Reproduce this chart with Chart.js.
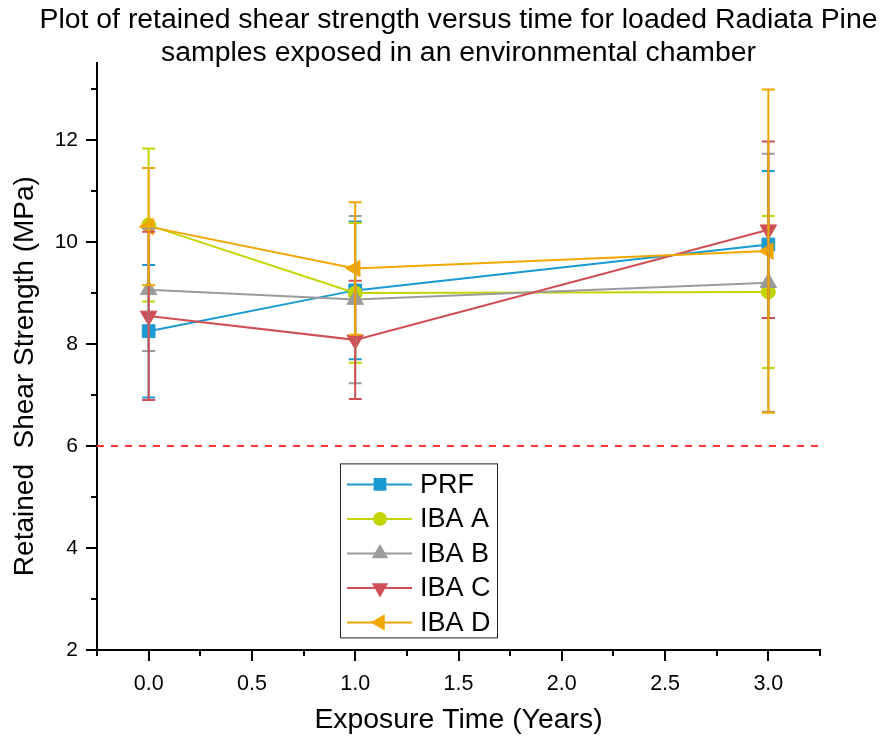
<!DOCTYPE html>
<html><head><meta charset="utf-8">
<script src="https://cdn.jsdelivr.net/npm/chart.js@4/dist/chart.umd.min.js"></script>
<style>html,body{margin:0;padding:0;background:#fff}#wrap{width:880px;height:738px}</style>
</head><body><div id="wrap"><canvas id="c" width="880" height="738"></canvas></div>
<script>
// ---- data ----
const years = [0, 1, 3];
const seriesNames = ['PRF', 'IBA A', 'IBA B', 'IBA C', 'IBA D'];
const prf = [8.25, 9.05, 9.95];
const prfErr = [1.30, 1.35, 1.44];
const ibaA = [10.33, 9.00, 9.02];
const ibaAErr = [1.50, 1.37, 1.49];
const ibaB = [9.06, 8.87, 9.20];
const ibaBErr = [1.20, 1.64, 2.53];
const ibaC = [8.55, 8.08, 10.24];
const ibaCErr = [1.65, 1.16, 1.73];
const ibaD = [10.30, 9.48, 9.82];
const ibaDErr = [1.15, 1.30, 3.17];
const thresholdValue = 6;
const xRange = [-0.25, 3.25];
const yRange = [2, 13.5];

const seriesValues = [prf, ibaA, ibaB, ibaC, ibaD];
const seriesErrors = [prfErr, ibaAErr, ibaBErr, ibaCErr, ibaDErr];
const colors = ['#1a9ad2', '#c3d500', '#9b9b9b', '#cf4f55', '#f2a600'];
const styles = [
  {pointStyle: 'rect', rotation: 0, radius: 9},
  {pointStyle: 'circle', rotation: 0, radius: 7},
  {pointStyle: 'triangle', rotation: 0, radius: 9.5},
  {pointStyle: 'triangle', rotation: 180, radius: 9.5},
  {pointStyle: 'triangle', rotation: -90, radius: 9.5}
];

Chart.defaults.font.family = "'Liberation Sans', Arial, sans-serif";
Chart.defaults.color = '#000';

const datasets = seriesValues.map((vals, s) => ({
  label: seriesNames[s],
  data: years.map((x, i) => ({x: x, y: vals[i]})),
  borderColor: colors[s],
  backgroundColor: colors[s],
  borderWidth: 2,
  pointStyle: styles[s].pointStyle,
  pointRotation: styles[s].rotation,
  pointRadius: styles[s].radius,
  pointHoverRadius: styles[s].radius,
  pointBorderWidth: 1,
  order: 5 - s,
  errors: seriesErrors[s]
}));
datasets.push({
  label: 'threshold',
  data: [{x: xRange[0], y: thresholdValue}, {x: xRange[1], y: thresholdValue}],
  borderColor: '#ff3333',
  borderWidth: 2,
  borderDash: [7, 7],
  pointRadius: 0,
  order: 10
});

function drawMarker(ctx, style, x, y) {
  const r = style.radius;
  ctx.beginPath();
  if (style.pointStyle === 'rect') {
    const h = r * Math.SQRT1_2;
    ctx.rect(x - h, y - h, 2 * h, 2 * h);
  } else if (style.pointStyle === 'circle') {
    ctx.arc(x, y, r, 0, Math.PI * 2);
  } else {
    let rad = style.rotation * Math.PI / 180;
    for (let k = 0; k < 3; k++) {
      const px = x + Math.sin(rad) * r, py = y - Math.cos(rad) * r;
      if (k === 0) ctx.moveTo(px, py); else ctx.lineTo(px, py);
      rad += 2 * Math.PI / 3;
    }
    ctx.closePath();
  }
  ctx.fill();
}

const errorBarPlugin = {
  id: 'errorBars',
  afterDatasetsDraw(chart) {
    const ctx = chart.ctx, xs = chart.scales.x, ys = chart.scales.y;
    ctx.save();
    chart.data.datasets.forEach((ds, s) => {
      if (!ds.errors) return;
      ctx.strokeStyle = ds.borderColor;
      ctx.lineWidth = 2;
      ds.data.forEach((p, i) => {
        const e = ds.errors[i];
        const px = xs.getPixelForValue(p.x);
        const yt = ys.getPixelForValue(p.y + e);
        const yb = ys.getPixelForValue(p.y - e);
        ctx.beginPath();
        ctx.moveTo(px, yt); ctx.lineTo(px, yb);
        ctx.moveTo(px - 6.5, yt); ctx.lineTo(px + 6.5, yt);
        ctx.moveTo(px - 6.5, yb); ctx.lineTo(px + 6.5, yb);
        ctx.stroke();
      });
    });
    ctx.restore();
  }
};

const ticksPlugin = {
  id: 'axisTicks',
  afterDraw(chart) {
    const ctx = chart.ctx, xs = chart.scales.x, ys = chart.scales.y, ca = chart.chartArea;
    ctx.save();
    ctx.strokeStyle = '#000';
    ctx.lineWidth = 2;
    ctx.beginPath();
    xs.ticks.forEach(t => {
      const px = Math.round(xs.getPixelForValue(t.value));
      const len = t.label === '' ? 6 : 11;
      ctx.moveTo(px, ca.bottom); ctx.lineTo(px, ca.bottom + len);
    });
    ys.ticks.forEach(t => {
      const py = Math.round(ys.getPixelForValue(t.value));
      const len = t.label === '' ? 6 : 11;
      ctx.moveTo(ca.left, py); ctx.lineTo(ca.left - len, py);
    });
    ctx.stroke();
    ctx.restore();
  }
};

const legendPlugin = {
  id: 'boxLegend',
  afterDraw(chart) {
    const ctx = chart.ctx, ca = chart.chartArea;
    const left = ca.left + 243, top = ca.top + 400, w = 157, h = 174;
    ctx.save();
    ctx.fillStyle = '#fff';
    ctx.fillRect(left, top, w, h);
    ctx.strokeStyle = '#222';
    ctx.lineWidth = 1;
    ctx.strokeRect(left + 0.5, top + 0.5, w, h);
    ctx.font = "27px 'Liberation Sans', Arial, sans-serif";
    ctx.textBaseline = 'middle';
    ctx.textAlign = 'left';
    seriesNames.forEach((name, s) => {
      const cy = top + 21 + s * 34.5;
      ctx.strokeStyle = colors[s];
      ctx.fillStyle = colors[s];
      ctx.lineWidth = 2;
      ctx.beginPath();
      ctx.moveTo(left + 7, cy); ctx.lineTo(left + 72, cy);
      ctx.stroke();
      drawMarker(ctx, styles[s], left + 40, cy);
      ctx.fillStyle = '#000';
      ctx.fillText(name, left + 80, cy + 1);
    });
    ctx.restore();
  }
};

new Chart(document.getElementById('c'), {
  type: 'line',
  data: {datasets: datasets},
  options: {
    responsive: false,
    animation: false,
    devicePixelRatio: 1,
    layout: {padding: {left: 37, right: 0, top: 0, bottom: 0}},
    plugins: {
      legend: {display: false},
      tooltip: {enabled: false},
      title: {
        display: true,
        text: ['Plot of retained shear strength versus time for loaded Radiata Pine',
               'samples exposed in an environmental chamber'],
        font: {size: 28.4, weight: 'normal', lineHeight: 1.16},
        color: '#000',
        padding: {top: 4, bottom: -6.5}
      }
    },
    scales: {
      x: {
        type: 'linear',
        min: xRange[0], max: xRange[1],
        grid: {display: false, drawTicks: false},
        border: {display: true, color: '#000', width: 2},
        ticks: {
          stepSize: 0.25,
          autoSkip: false,
          maxRotation: 0,
          includeBounds: false,
          padding: 21,
          font: {size: 21.5},
          callback: v => (Math.abs(v * 2 - Math.round(v * 2)) < 1e-6) ? v.toFixed(1) : ''
        },
        title: {display: true, text: 'Exposure Time (Years)', font: {size: 28.4}, padding: {top: 0, bottom: 1}},
        afterFit(scale) { scale.height = 88; }
      },
      y: {
        type: 'linear',
        min: yRange[0], max: yRange[1],
        grid: {display: false, drawTicks: false},
        border: {display: true, color: '#000', width: 2},
        ticks: {
          stepSize: 1,
          autoSkip: false,
          includeBounds: false,
          padding: 19,
          font: {size: 21},
          callback: v => (Math.round(v) % 2 === 0) ? String(v) : ''
        },
        title: {display: true, text: 'Retained  Shear Strength (MPa)     ', font: {size: 28}, padding: {top: -28.8, bottom: 0}},
        afterFit(scale) { scale.width = 60; }
      },
      yRight: {
        type: 'linear',
        position: 'right',
        display: true,
        grid: {display: false},
        border: {display: false},
        ticks: {display: false},
        afterFit(scale) { scale.width = 60; }
      }
    }
  },
  plugins: [errorBarPlugin, ticksPlugin, legendPlugin]
});
</script>
</body></html>
